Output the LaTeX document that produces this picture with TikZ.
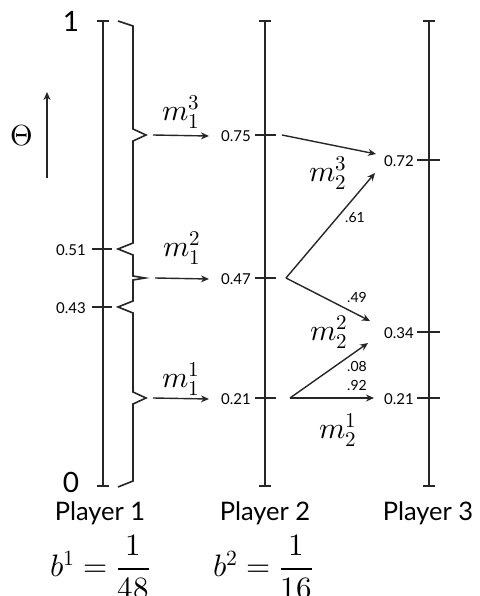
\documentclass[tikz,border=0pt]{standalone}
\usepackage{fontspec}
\usepackage{unicode-math}
\newfontfamily\lab{Lato}
\usetikzlibrary{arrows.meta}
\tikzset{
  pline/.style={line width=2.4pt, draw=black!85},
  brc/.style={line width=1.6pt, draw=black!85, line join=miter},
  arr/.style={line width=1.4pt, draw=black!85, -{Stealth[length=8pt,width=7pt]}},
  val/.style={font=\lab\fontsize{15}{16}\selectfont, inner sep=0pt, anchor=east},
  pr/.style={font=\lab\fontsize{14}{15}\selectfont, inner sep=0pt},
  ml/.style={font=\fontsize{30}{34}\selectfont, inner sep=0pt},
  eq/.style={font=\fontsize{31}{34}\selectfont, inner sep=0pt, anchor=west},
  pl/.style={font=\lab\fontsize{25.5}{28}\selectfont, inner sep=0pt},
  big/.style={font=\lab\fontsize{28}{30}\selectfont, inner sep=0pt},
}
\begin{document}
\begin{tikzpicture}[x=1pt,y=-1pt]
\useasboundingbox (0,0) rectangle (479,596);
% player lines
\foreach \x/\n in {103/1,265/2,429/3}{
  \draw[pline] (\x,21) -- (\x,486);
  \draw[pline] (\x-6,21) -- (\x+6,21);
  \draw[pline] (\x-6,486) -- (\x+6,486);
}
% ticks
\draw[pline, line width=1.5pt] (92,249) -- (112,249);
\draw[pline, line width=1.5pt] (92,307) -- (112,307);
\draw[pline, line width=1.5pt] (255,135) -- (276,135);
\draw[pline, line width=1.5pt] (255,278) -- (276,278);
\draw[pline, line width=1.5pt] (255,398) -- (276,398);
\draw[pline, line width=1.5pt] (417,160) -- (440,160);
\draw[pline, line width=1.5pt] (417,332) -- (440,332);
\draw[pline, line width=1.5pt] (417,398) -- (440,398);
% braces
\draw[brc] (118,21) -- (133,26) -- (133,129) -- (146,135) -- (133,141) -- (133,243)
  -- (118,249) -- (133,255) -- (133,276) -- (145,278) -- (133,280) -- (133,301)
  -- (118,307) -- (133,313) -- (133,392) -- (146,398) -- (133,404) -- (133,481) -- (118,487);
% end labels
\node[big] (one) at (71,21) {1};
\node[big] (zero) at (71,482) {0};
\node[font=\fontsize{29}{30}\selectfont, inner sep=0pt] (theta) at (22,136) {$\Theta$};
\coordinate (thA) at (47,178);
\coordinate (thB) at (47,92);
\draw[arr, line width=1.3pt] (thA) -- (thB);
% value labels
\node[val] (v51) at (86,250) {0.51};
\node[val] (v43) at (86,308) {0.43};
\node[val] (v75) at (251,136) {0.75};
\node[val] (v47) at (251,279) {0.47};
\node[val] (v21a) at (251,399) {0.21};
\node[val] (v72) at (414,161) {0.72};
\node[val] (v34) at (414,333) {0.34};
\node[val] (v21b) at (414,399) {0.21};
% P1 -> P2 arrows
\coordinate (b3) at (153,135);
\coordinate (b2) at (155,278);
\coordinate (b1) at (153,398);
\draw[arr] (b3) -- ([xshift=-12pt]v75.west);
\draw[arr] (b2) -- ([xshift=-12pt]v47.west);
\draw[arr] (b1) -- ([xshift=-12pt]v21a.west);
\node[ml] (m13) at (181,112) {$m_1^3$};
\node[ml] (m12) at (182,248) {$m_1^2$};
\node[ml] (m11) at (181,379) {$m_1^1$};
% P2 -> P3 arrows
\coordinate (s75) at (282,135);
\coordinate (e72) at (376,154);
\coordinate (s47) at (286,278);
\coordinate (e61) at (375,173);
\coordinate (e49) at (370,321);
\coordinate (s21) at (290,398);
\coordinate (e08) at (368,343);
\coordinate (e92) at (374,398);
\draw[arr] (s75) -- (e72);
\draw[arr] (s47) -- (e61);
\draw[arr] (s47) -- (e49);
\draw[arr] (s21) -- (e08);
\draw[arr] (s21) -- (e92);
\node[pr] (p61) at (355,218) {.61};
\node[pr] (p49) at (357,297) {.49};
\node[pr] (p08) at (357,366) {.08};
\node[pr] (p92) at (357,385) {.92};
\node[ml] (m23) at (328,173) {$m_2^3$};
\node[ml] (m22) at (329,332) {$m_2^2$};
\node[ml] (m21) at (338,430) {$m_2^1$};
% player names
\node[pl] (P1) at (100,513) {Player 1};
\node[pl] (P2) at (265,513) {Player 2};
\node[pl] (P3) at (428,513) {Player 3};
\node[eq] (b1eq) at (50,567) {$b^1=\dfrac{1}{48}$};
\node[eq] (b2eq) at (213,567) {$b^2=\dfrac{1}{16}$};
\end{tikzpicture}
\end{document}
